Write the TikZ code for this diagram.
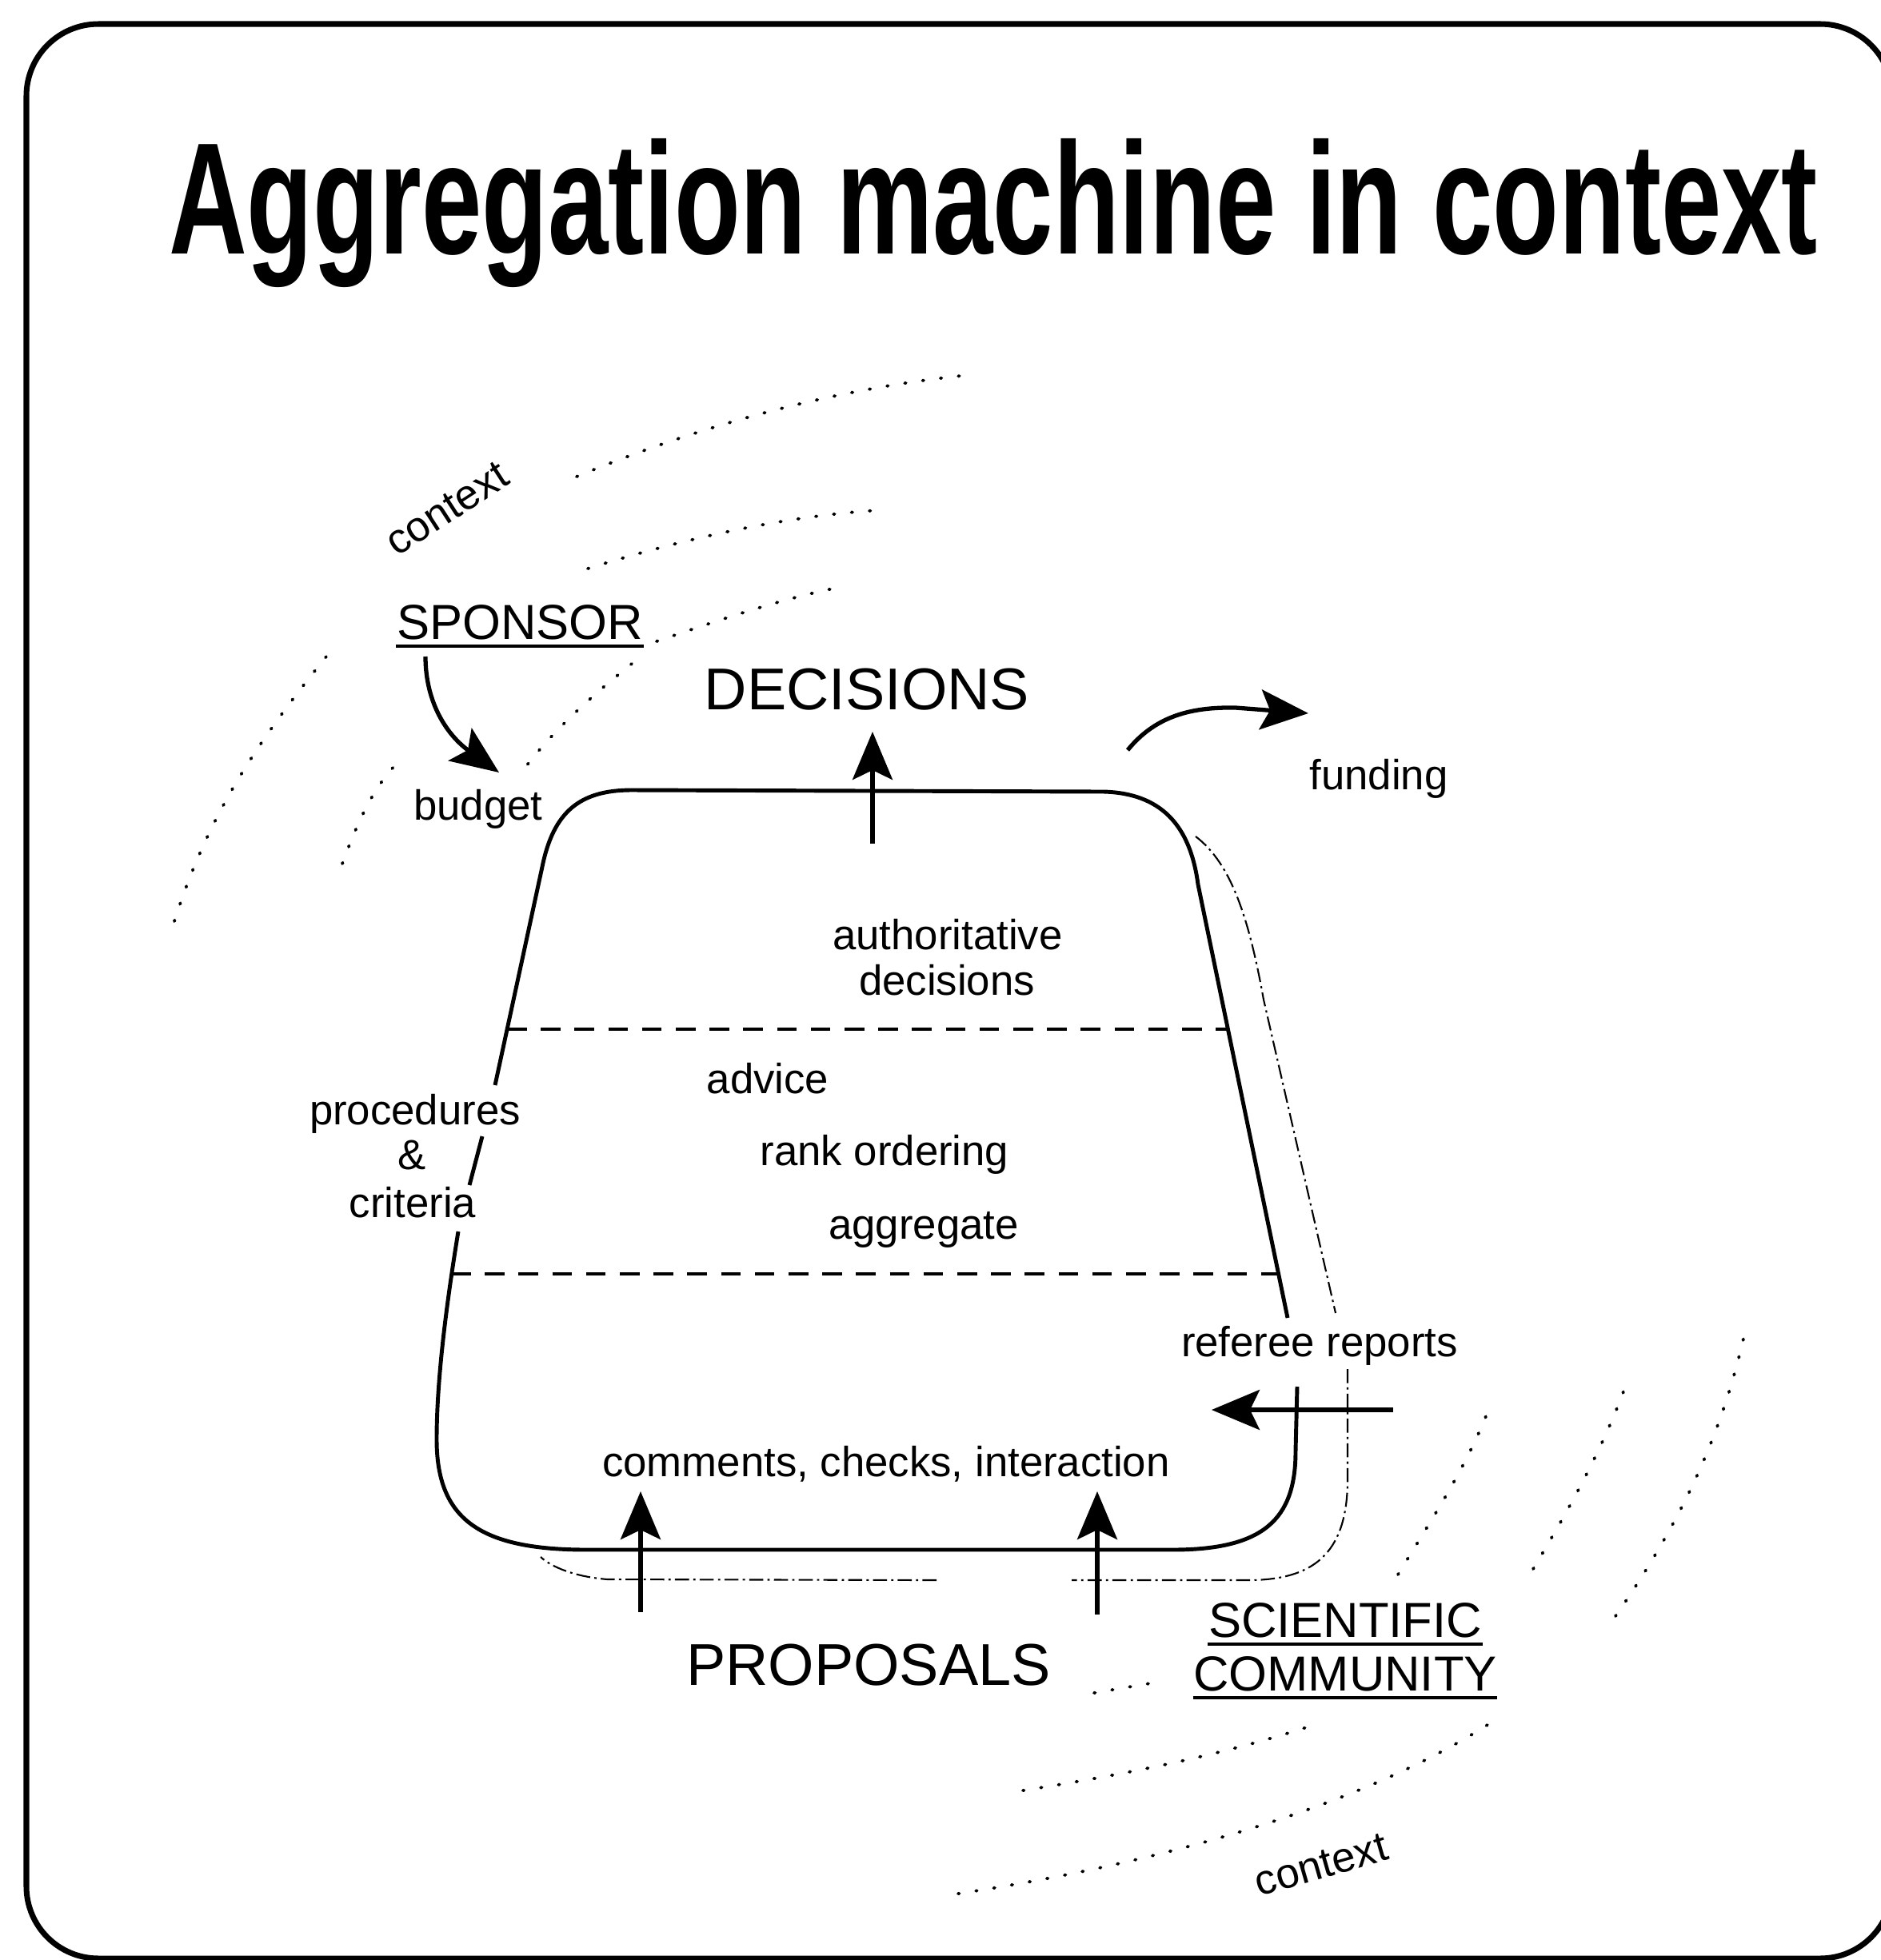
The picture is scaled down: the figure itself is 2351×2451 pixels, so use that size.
\documentclass[tikz,border=0pt]{standalone}
\usepackage{fontspec}
\setmainfont{Liberation Sans}
\usepackage{graphicx}
\usetikzlibrary{arrows.meta}

\begin{document}
\begin{tikzpicture}[
    x=0.01cm, y=-0.01cm,
    >={Stealth[length=6mm, width=5mm, inset=1.2mm]},
    lbl/.style={inner sep=0pt, anchor=base, font=\fontsize{15}{18}\selectfont},
    head/.style={inner sep=0pt, anchor=base, font=\fontsize{21}{25}\selectfont},
    actor/.style={inner sep=0pt, anchor=base, font=\fontsize{17.5}{21}\selectfont},
    ctx/.style={inner sep=0pt, font=\fontsize{15}{18}\selectfont},
    outline/.style={line width=1.4pt, line join=round},
    flow/.style={->, line width=1.5pt},
    layer/.style={line width=1.4pt, dash pattern=on 7pt off 5pt},
    trace/.style={line width=0.6pt, dash pattern=on 5pt off 1.5pt on 0.8pt off 1.5pt},
    haze/.style={line width=1.1pt, line cap=round, dash pattern=on 0.4pt off 6pt},
    uline/.style={line width=1.2pt}
]
\useasboundingbox (0,0) rectangle (2351,2451);

% frame and title
\draw[line width=2pt, rounded corners=0.9cm] (33,30) rectangle (2366,2449);
\node[anchor=base, inner sep=0pt] (title) at (1242,317)
    {\resizebox{20.6cm}{1.44cm}{\bfseries Aggregation machine in context}};

% the machine
\draw[outline] (619,1357) -- (678,1084) .. controls (692,1015) and (725,988) .. (790,988)
    -- (1380,990) .. controls (1450,992) and (1488,1030) .. (1498,1106) -- (1610,1648);
\draw[outline] (603,1421) -- (587,1482);
\draw[outline] (573,1540) .. controls (560,1620) and (546,1720) .. (546,1800)
    .. controls (546,1900) and (600,1938) .. (734,1938) -- (1466,1938)
    .. controls (1580,1938) and (1620,1900) .. (1620,1815) -- (1622,1734);
\coordinate (upw) at (634,1287);
\coordinate (upe) at (1535,1287);
\coordinate (lowe) at (1599,1593);
\coordinate (loww) at (564,1593);
\draw[layer] (upw) -- (upe);
\draw[layer] (loww) -- (lowe);

% community trace round the machine
\draw[trace] (1495,1046) .. controls (1540,1080) and (1562,1150) .. (1580,1250) -- (1670,1642);
\draw[trace] (1685,1712) -- (1685,1850) .. controls (1685,1945) and (1640,1976) .. (1560,1976)
    -- (1340,1976);
\draw[trace] (1171,1976) -- (760,1975) .. controls (720,1972) and (690,1960) .. (676,1947);

% labels
\node[actor] (sponsor) at (650,799) {SPONSOR};
\node[head] (decisions) at (1084,887) {DECISIONS};
\node[lbl] (funding) at (1724,987) {funding};
\node[lbl] (budget) at (598,1025) {budget};
\node[lbl] (auth1) at (1185,1187) {authoritative};
\node[lbl] (auth2) at (1184,1244) {decisions};
\node[lbl] (advice) at (960,1367) {advice};
\node[lbl] (proc1) at (519,1406) {procedures};
\node[lbl] (proc2) at (515,1462) {\&};
\node[lbl] (proc3) at (516,1522) {criteria};
\node[lbl] (rank) at (1106,1457) {rank ordering};
\node[lbl] (aggr) at (1155,1549) {aggregate};
\node[lbl] (referee) at (1650,1696) {referee reports};
\node[lbl] (comments) at (1108,1846) {comments, checks, interaction};
\node[head] (proposals) at (1086,2107) {PROPOSALS};
\node[actor] (sci1) at (1682,2047) {SCIENTIFIC};
\node[actor] (sci2) at (1682,2114) {COMMUNITY};
\node[ctx, rotate=33] (ctxtop) at (559,636) {context};
\node[ctx, rotate=16] (ctxbot) at (1652,2332) {context};

\foreach \n in {sponsor, sci1, sci2}
    \draw[uline] ([yshift=-2.5pt]\n.base west) -- ([yshift=-2.5pt]\n.base east);

% flows
\coordinate (dectail) at (1091,1055);
\coordinate (dectip) at (1091,915);
\coordinate (budtail) at (532,821);
\coordinate (budtip) at (624,966);
\coordinate (funtail) at (1410,938);
\coordinate (funtip) at (1636,892);
\coordinate (reftail) at (1742,1763);
\coordinate (reftip) at (1515,1763);
\coordinate (prop1) at (801,2016);
\coordinate (prop1tip) at (801,1865);
\coordinate (prop2) at (1372,2019);
\coordinate (prop2tip) at (1372,1865);

\draw[flow] (dectail) -- (dectip);
\draw[flow] (budtail) .. controls (532,880) and (560,920) .. (budtip);
\draw[flow] (funtail) .. controls (1445,895) and (1490,884) .. (1545,885) -- (funtip);
\draw[flow] (reftail) -- (reftip);
\draw[flow] (prop1) -- (prop1tip);
\draw[flow] (prop2) -- (prop2tip);

% context haze
\draw[haze] (721,596) .. controls (880,530) and (1050,485) .. (1211,469);
\draw[haze] (735,711) .. controls (850,675) and (980,645) .. (1100,638);
\draw[haze] (821,802) .. controls (900,775) and (980,748) .. (1047,735);
\draw[haze] (218,1152) .. controls (260,1020) and (320,930) .. (408,821);
\draw[haze] (428,1080) .. controls (450,1020) and (470,980) .. (500,951);
\draw[haze] (790,830) .. controls (740,870) and (690,915) .. (655,962);
\draw[haze] (1748,1969) .. controls (1790,1900) and (1830,1840) .. (1858,1771);
\draw[haze] (1917,1962) .. controls (1960,1890) and (2000,1820) .. (2030,1740);
\draw[haze] (2020,2021) .. controls (2090,1920) and (2150,1810) .. (2182,1665);
\draw[haze] (1279,2239) .. controls (1400,2220) and (1530,2195) .. (1649,2155);
\draw[haze] (1198,2368) .. controls (1450,2330) and (1700,2260) .. (1863,2155);
\draw[haze] (1368,2117) -- (1450,2103);
\end{tikzpicture}
\end{document}
